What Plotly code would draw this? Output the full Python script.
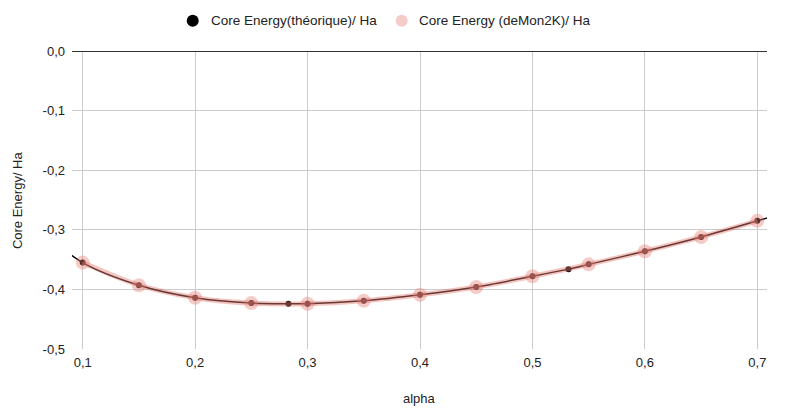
import plotly.graph_objects as go

# Theoretical core energy (Ha) vs alpha
alpha_theo = [0.05, 0.10, 0.15, 0.20, 0.25, 0.283, 0.30, 0.35, 0.40, 0.45, 0.50, 0.532, 0.55, 0.60, 0.65, 0.70, 0.75]
energy_theo = [-0.282, -0.355, -0.393, -0.414, -0.423, -0.424, -0.424, -0.419, -0.409, -0.396, -0.378, -0.366, -0.358, -0.336, -0.312, -0.285, -0.257]

# deMon2K core energy (Ha) vs alpha
alpha_demon = [0.10, 0.15, 0.20, 0.25, 0.30, 0.35, 0.40, 0.45, 0.50, 0.55, 0.60, 0.65, 0.70]
energy_demon = [-0.355, -0.393, -0.414, -0.423, -0.424, -0.419, -0.409, -0.396, -0.378, -0.358, -0.336, -0.312, -0.285]

x_tick_vals = [0.1, 0.2, 0.3, 0.4, 0.5, 0.6, 0.7]
x_tick_text = ["0,1", "0,2", "0,3", "0,4", "0,5", "0,6", "0,7"]
y_tick_vals = [0.0, -0.1, -0.2, -0.3, -0.4, -0.5]
y_tick_text = ["0,0", "-0,1", "-0,2", "-0,3", "-0,4", "-0,5"]

name_theo = "Core Energy(théorique)/ Ha"
name_demon = "Core Energy (deMon2K)/ Ha"
x_title = "alpha"
y_title = "Core Energy/ Ha"

FONT = "Liberation Sans, Arial, sans-serif"
TXT = "#222222"
PINK_SOLID = "#f5cbc7"

fig = go.Figure()

# theoretical line with dots
fig.add_trace(go.Scatter(
    x=alpha_theo, y=energy_theo, mode="lines+markers", name=name_theo,
    line=dict(color="#000000", width=1.5, shape="spline", smoothing=0.8),
    marker=dict(color="#000000", size=6),
    showlegend=False, hoverinfo="skip"))

# deMon2K halo line and markers (semi-transparent, drawn on top)
fig.add_trace(go.Scatter(
    x=alpha_demon, y=energy_demon, mode="lines+markers", name=name_demon,
    line=dict(color="rgba(230,124,115,0.45)", width=5, shape="spline", smoothing=0.8),
    marker=dict(color="rgba(230,124,115,0.4)", size=14, line=dict(width=0)),
    showlegend=False, hoverinfo="skip"))

# legend drawn as circles + text above the plot (does not push margins)
LEG_Y = 1.1017
legend_items = [(0.1737, 0.1971, "#000000", name_theo),
                (0.4744, 0.4968, PINK_SOLID, name_demon)]
shapes = []
annotations = []
for cx, tx, col, label in legend_items:
    shapes.append(dict(type="circle", xref="paper", yref="paper",
                       xsizemode="pixel", ysizemode="pixel",
                       xanchor=cx, yanchor=LEG_Y, x0=-6, x1=6, y0=-6, y1=6,
                       fillcolor=col, line=dict(width=0)))
    annotations.append(dict(text=label, xref="paper", yref="paper", x=tx, y=LEG_Y,
                            xanchor="left", yanchor="middle", showarrow=False,
                            font=dict(size=13.5, color=TXT)))

annotations += [
    dict(text=x_title, xref="paper", yref="paper", x=0.5, y=-0.165,
         xanchor="center", yanchor="middle", showarrow=False,
         font=dict(size=13, color=TXT)),
    dict(text=y_title, xref="paper", yref="paper", x=-0.079, y=0.5,
         xanchor="center", yanchor="middle", textangle=-90, showarrow=False,
         font=dict(size=13, color=TXT)),
]

fig.update_layout(
    width=769, height=398,
    margin=dict(l=64, r=10, t=43, b=57),
    paper_bgcolor="white", plot_bgcolor="white",
    font=dict(family=FONT, size=13, color=TXT),
    showlegend=False,
    xaxis=dict(range=[0.0905, 0.7086], tickvals=x_tick_vals, ticktext=x_tick_text,
               showgrid=True, gridcolor="#cccccc", gridwidth=1, zeroline=False,
               showline=False, ticks="", ticklabelstandoff=4, automargin=False,
               tickfont=dict(size=13, color=TXT)),
    yaxis=dict(range=[-0.5, 0.0], tickvals=y_tick_vals, ticktext=y_tick_text,
               showgrid=True, gridcolor="#cccccc", gridwidth=1,
               zeroline=True, zerolinecolor="#333333", zerolinewidth=1,
               showline=False, ticks="", ticklabelstandoff=6, automargin=False,
               tickfont=dict(size=13, color=TXT)),
    shapes=shapes,
    annotations=annotations,
)

fig.write_html("out.html")
